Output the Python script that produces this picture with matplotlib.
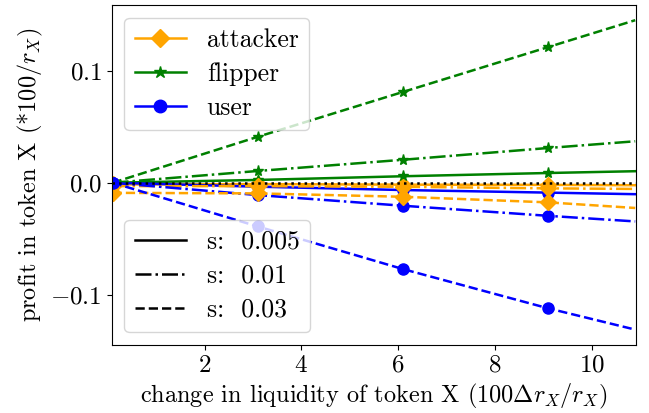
import matplotlib
matplotlib.use('Agg')
import matplotlib.pyplot as plt
from matplotlib.lines import Line2D

# ---------------------------------------------------------------- DATA
x = [0.1, 3.1, 6.1, 9.1, 10.9]
spreads = ['0.005', '0.01', '0.03']

attacker = {
    '0.005': [-0.0015, -0.0012, -0.0017, -0.0019, -0.0022],
    '0.01': [-0.003, -0.003, -0.0036, -0.005, -0.0055],
    '0.03': [-0.009, -0.0095, -0.0125, -0.0175, -0.0225],
}
flipper = {
    '0.005': [0.0, 0.0025, 0.0058, 0.0087, 0.0103],
    '0.01': [0.0, 0.0105, 0.0205, 0.031, 0.037],
    '0.03': [0.0, 0.041, 0.081, 0.121, 0.145],
}
user = {
    '0.005': [0.0, -0.0035, -0.0065, -0.0088, -0.0102],
    '0.01': [0.0, -0.011, -0.0205, -0.0295, -0.0345],
    '0.03': [0.0, -0.039, -0.077, -0.112, -0.131],
}

agents = [('attacker', attacker, 'orange', 'D'),
          ('flipper', flipper, 'green', '*'),
          ('user', user, 'blue', 'o')]
styles = {'0.005': '-', '0.01': '-.', '0.03': '--'}

# ---------------------------------------------------------------- PLOT
plt.rcParams['font.family'] = 'serif'
plt.rcParams['font.serif'] = ['cmr10']
plt.rcParams['mathtext.fontset'] = 'cm'
plt.rcParams['axes.formatter.use_mathtext'] = True

fig = plt.figure(figsize=(6.49, 4.13), dpi=100)
ax = fig.add_axes([0.172, 0.165, 0.8075, 0.823])

for s in spreads:
    for name, data, color, marker in agents:
        ax.plot(x, data[s], color=color, linestyle=styles[s], marker=marker,
                markevery=[0, 1, 2, 3], markersize=8, linewidth=1.8)

ax.axhline(0, color='black', linestyle=':', linewidth=1.8)

ax.set_xlim(0.08, 10.91)
ax.set_ylim(-0.1446, 0.1586)
ax.set_xticks([2, 4, 6, 8, 10])
ax.set_yticks([-0.1, 0.0, 0.1])
ax.tick_params(labelsize=18)

ax.set_xlabel(r'change in liquidity of token X ($100\Delta r_X/r_X$)', fontsize=17.5)
ax.set_ylabel(r'profit in token X (*100/$r_X$)', fontsize=17.5)

agent_handles = [Line2D([], [], color=c, marker=m, markersize=9, linewidth=1.8)
                 for _, _, c, m in agents]
leg1 = ax.legend(agent_handles, [a[0] for a in agents], loc='upper left',
                 fontsize=18.5, labelspacing=0.4)
ax.add_artist(leg1)

style_handles = [Line2D([], [], color='black', linestyle=styles[s], linewidth=1.8)
                 for s in spreads]
ax.legend(style_handles, ['s:  ' + s for s in spreads], loc='lower left',
          fontsize=18.5, labelspacing=0.4)

plt.savefig('out.png')
